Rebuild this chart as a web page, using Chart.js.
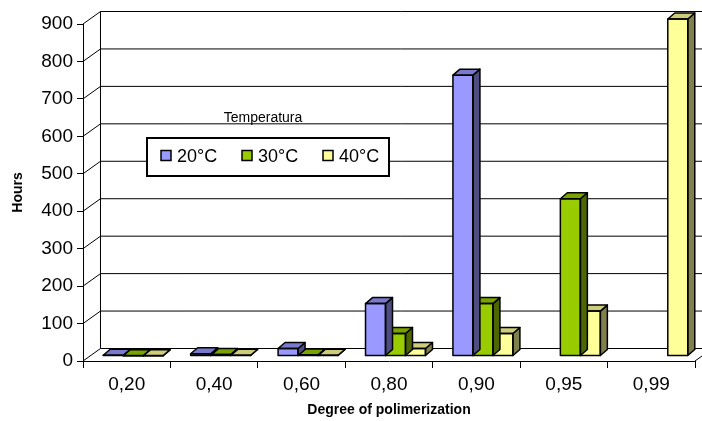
<!DOCTYPE html>
<html>
<head>
<meta charset="utf-8">
<script src="https://cdn.jsdelivr.net/npm/chart.js@4.4.1/dist/chart.umd.min.js"></script>
<style>
  html, body { margin: 0; padding: 0; background: #fff; }
  #wrap { width: 702px; height: 421px; }
</style>
</head>
<body>
<div id="wrap"><canvas id="chart" width="702" height="421"></canvas></div>
<script>
// ---- data ----
const categories = ['0,20', '0,40', '0,60', '0,80', '0,90', '0,95', '0,99'];
const hours20 = [2, 6, 20, 140, 750, null, null];
const hours30 = [1, 4, 3, 60, 140, 420, null];
const hours40 = [1, 2, 2, 20, 60, 120, 900];
const seriesLabels = ['20°C', '30°C', '40°C'];
const yTicks = [0, 100, 200, 300, 400, 500, 600, 700, 800, 900];

// ---- look ----
const FONT = "'Liberation Sans', Arial, sans-serif";
const faces = [
    { front: '#9999ff', top: '#7a7acc', side: '#4d4d80' },
    { front: '#99cc00', top: '#7aa300', side: '#4d6600' },
    { front: '#ffff99', top: '#cccc7a', side: '#80804d' }
];
const WALL_DX = 17.5, WALL_DY = -12.5;   // depth of the floor / walls
const BAR_DX = 6.5, BAR_DY = -5;         // where the bars stand in depth
const BAR_DEPTH_X = 7, BAR_DEPTH_Y = -6; // depth of one bar

// back wall, floor and side wall lines
const wallsPlugin = {
    id: 'walls',
    beforeDatasetsDraw(chart) {
        const { ctx, chartArea: a, scales: { y } } = chart;
        ctx.save();
        ctx.strokeStyle = '#000';
        ctx.lineWidth = 1;
        ctx.beginPath();
        yTicks.forEach(v => {
            const fy = y.getPixelForValue(v);
            ctx.moveTo(a.left, fy);
            ctx.lineTo(a.left + WALL_DX, fy + WALL_DY);
            ctx.lineTo(a.right + WALL_DX, fy + WALL_DY);
        });
        const y0 = y.getPixelForValue(0);
        const yTop = y.getPixelForValue(yTicks[yTicks.length - 1]);
        ctx.moveTo(a.left + WALL_DX, y0 + WALL_DY);
        ctx.lineTo(a.left + WALL_DX, yTop + WALL_DY);
        ctx.moveTo(a.right, y0);
        ctx.lineTo(a.right + WALL_DX, y0 + WALL_DY);
        ctx.stroke();
        ctx.restore();

        // bars stand a little behind the front plane
        ctx.save();
        ctx.translate(BAR_DX, BAR_DY);
    },
    afterDatasetDraw(chart, args) {
        const ctx = chart.ctx;
        const f = faces[args.index];
        const values = chart.data.datasets[args.index].data;
        ctx.save();
        ctx.strokeStyle = '#000';
        ctx.lineWidth = 1.5;
        ctx.lineJoin = 'round';
        args.meta.data.forEach((bar, i) => {
            if (values[i] == null) return;
            const { x, y, base, width } = bar.getProps(['x', 'y', 'base', 'width'], true);
            const l = x - width / 2, r = x + width / 2;
            const dx = BAR_DEPTH_X, dy = BAR_DEPTH_Y;

            ctx.fillStyle = f.side;
            ctx.beginPath();
            ctx.moveTo(r, y);
            ctx.lineTo(r + dx, y + dy);
            ctx.lineTo(r + dx, base + dy);
            ctx.lineTo(r, base);
            ctx.closePath();
            ctx.fill();
            ctx.stroke();

            ctx.fillStyle = f.top;
            ctx.beginPath();
            ctx.moveTo(l, y);
            ctx.lineTo(l + dx, y + dy);
            ctx.lineTo(r + dx, y + dy);
            ctx.lineTo(r, y);
            ctx.closePath();
            ctx.fill();
            ctx.stroke();

            ctx.strokeRect(l, y, width, base - y);
        });
        ctx.restore();
    },
    afterDatasetsDraw(chart) {
        chart.ctx.restore();
    }
};

// legend box floating over the plot, with its title above
const legendPlugin = {
    id: 'floatLegend',
    afterDraw(chart) {
        const ctx = chart.ctx;
        ctx.save();
        ctx.fillStyle = '#000';
        ctx.font = '14px ' + FONT;
        ctx.textAlign = 'center';
        ctx.textBaseline = 'middle';
        ctx.fillText('Temperatura', 263, 118);

        ctx.fillStyle = '#fff';
        ctx.fillRect(147, 138, 242, 38);
        ctx.strokeStyle = '#000';
        ctx.lineWidth = 2;
        ctx.strokeRect(147, 138, 242, 38);

        ctx.font = '18px ' + FONT;
        ctx.textAlign = 'left';
        chart.data.datasets.forEach((ds, i) => {
            const sx = 161 + i * 81;
            ctx.fillStyle = ds.backgroundColor;
            ctx.fillRect(sx, 150.5, 10, 10);
            ctx.lineWidth = 1.5;
            ctx.strokeRect(sx, 150.5, 10, 10);
            ctx.fillStyle = '#000';
            ctx.fillText(ds.label, sx + 16, 157);
        });
        ctx.restore();
    }
};

const makeSet = (i, data) => ({
    label: seriesLabels[i],
    data: data,
    backgroundColor: faces[i].front,
    borderWidth: 0,
    categoryPercentage: 0.686,
    barPercentage: 1.0,
    clip: false
});

new Chart(document.getElementById('chart'), {
    type: 'bar',
    data: {
        labels: categories,
        datasets: [makeSet(0, hours20), makeSet(1, hours30), makeSet(2, hours40)]
    },
    options: {
        responsive: false,
        animation: false,
        devicePixelRatio: 1,
        layout: { padding: { top: 24, right: 7, left: 0, bottom: 0 } },
        plugins: {
            legend: { display: false },
            tooltip: { enabled: false }
        },
        scales: {
            x: {
                afterFit(s) { s.height = 60; },
                grid: { offset: true, drawOnChartArea: false, drawTicks: true, tickLength: 7, color: '#000' },
                border: { display: true, color: '#000', width: 1 },
                ticks: { color: '#000', font: { family: FONT, size: 19 }, padding: 5 },
                title: {
                    display: true,
                    text: 'Degree of polimerization',
                    color: '#000',
                    font: { family: FONT, size: 14, weight: 'bold' },
                    padding: { top: 0, bottom: 2 }
                }
            },
            y: {
                min: 0,
                max: 900,
                afterFit(s) { s.width = 83; },
                grid: { drawOnChartArea: false, drawTicks: true, tickLength: 6, color: '#000' },
                border: { display: true, color: '#000', width: 1 },
                ticks: { stepSize: 100, color: '#000', font: { family: FONT, size: 19 }, padding: 4 },
                title: {
                    display: true,
                    text: 'Hours',
                    color: '#000',
                    font: { family: FONT, size: 14, weight: 'bold' },
                    padding: { top: 10, bottom: 0 }
                }
            }
        }
    },
    plugins: [wallsPlugin, legendPlugin]
});
</script>
</body>
</html>
